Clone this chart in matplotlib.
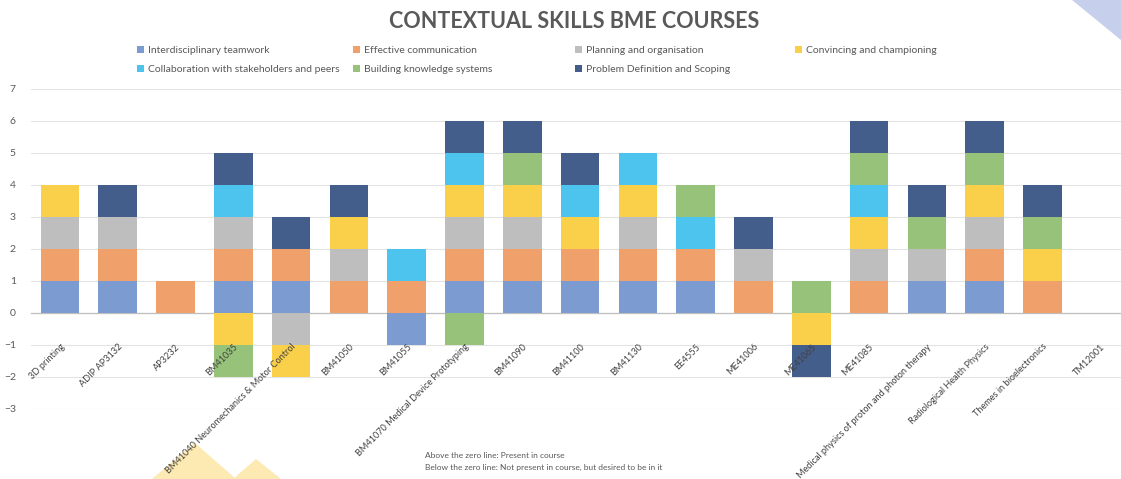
import matplotlib
matplotlib.use("Agg")
import matplotlib.pyplot as plt
from matplotlib.patches import Polygon, Patch
import numpy as np

plt.rcParams['font.family'] = ['Lato', 'DejaVu Sans']

categories = ["3D printing", "ADIP AP3132", "AP3232", "BM41035",
              "BM41040 Neuromechanics & Motor Control", "BM41050", "BM41055",
              "BM41070 Medical Device Prototyping", "BM41090", "BM41100", "BM41130",
              "EE4555", "ME41006", "ME41065", "ME41085",
              "Medical physics of proton and photon therapy",
              "Radiological Health Physics", "Themes in bioelectronics", "TM12001"]

series_names = ["Interdisciplinary teamwork", "Effective communication",
                "Planning and organisation", "Convincing and championing",
                "Collaboration with stakeholders and peers", "Building knowledge systems",
                "Problem Definition and Scoping"]

interdisciplinary = [1, 1, 0, 1, 1, 0, -1, 1, 1, 1, 1, 1, 0, 0, 0, 1, 1, 0, 0]
communication     = [1, 1, 1, 1, 1, 1, 1, 1, 1, 1, 1, 1, 1, 0, 1, 0, 1, 1, 0]
planning          = [1, 1, 0, 1, -1, 1, 0, 1, 1, 0, 1, 0, 1, 0, 1, 1, 1, 0, 0]
convincing        = [1, 0, 0, -1, -1, 1, 0, 1, 1, 1, 1, 0, 0, -1, 1, 0, 1, 1, 0]
collaboration     = [0, 0, 0, 1, 0, 0, 1, 1, 0, 1, 1, 1, 0, 0, 1, 0, 0, 0, 0]
knowledge         = [0, 0, 0, -1, 0, 0, 0, -1, 1, 0, 0, 1, 0, 1, 1, 1, 1, 1, 0]
problem_def       = [0, 1, 0, 1, 1, 1, 0, 1, 1, 1, 0, 0, 1, -1, 1, 1, 1, 1, 0]

colors = ["#7B9BD1", "#F0A16B", "#BEBEBE", "#FAD04B", "#4DC4EE", "#97C279", "#445E8B"]

series = [interdisciplinary, communication, planning, convincing,
          collaboration, knowledge, problem_def]

fig = plt.figure(figsize=(11.21, 4.79), dpi=100)
ax = fig.add_axes([31/1121, 70/479, 19*57.8/1121, 320/479])

# decorations
fig.patches.append(Polygon([[1072/1121, 1.0], [1.0, 1.0], [1.0, 1 - 40/479]],
                           closed=True, transform=fig.transFigure,
                           facecolor="#C6CFEC", edgecolor="none", zorder=0))
fig.patches.append(Polygon([[152/1121, 0.0], [195/1121, 1 - 443/479], [236/1121, 0.0]],
                           closed=True, transform=fig.transFigure,
                           facecolor="#FDE9B2", edgecolor="none", zorder=0))
fig.patches.append(Polygon([[233/1121, 0.0], [256/1121, 1 - 459/479], [281/1121, 0.0]],
                           closed=True, transform=fig.transFigure,
                           facecolor="#FDE9B2", edgecolor="none", zorder=0))
ax.set_zorder(1)
ax.patch.set_alpha(0)

x = np.arange(len(categories))
pos_bottom = np.zeros(len(categories))
neg_bottom = np.zeros(len(categories))
width = 0.67
for vals, name, col in zip(series, series_names, colors):
    v = np.array(vals, dtype=float)
    pos = np.where(v > 0, v, 0)
    neg = np.where(v < 0, v, 0)
    ax.bar(x, pos, width, bottom=pos_bottom, color=col, label=name, zorder=2)
    ax.bar(x, neg, width, bottom=neg_bottom, color=col, zorder=2)
    pos_bottom += pos
    neg_bottom += neg

ax.set_xlim(-0.5, len(categories) - 0.5)
ax.set_ylim(-3, 7)
ax.set_yticks(range(-3, 8))
ax.yaxis.grid(True, color="#E3E3E3", linewidth=0.8)
ax.yaxis.set_zorder(0.5)
ax.xaxis.set_zorder(5)
for s in ["top", "right", "left"]:
    ax.spines[s].set_visible(False)
ax.spines["bottom"].set_position(("data", 0))
ax.spines["bottom"].set_color("#BFBFBF")
ax.spines["bottom"].set_linewidth(0.9)
ax.spines["bottom"].set_zorder(1.5)
ax.tick_params(axis="y", length=0, pad=11, labelsize=7.5, labelcolor="#595959")
ax.set_xticks(x)
ax.set_xticklabels(categories, rotation=45, ha="right", rotation_mode="anchor",
                   fontsize=6.6, color="#404040")
ax.tick_params(axis="x", length=0, pad=21)

fig.text(574/1121, 1 - 22/479, "CONTEXTUAL SKILLS BME COURSES", ha="center", va="center",
         fontsize=15.5, fontweight="bold", color="#595959")

# legend: four columns placed like the Excel legend
handles = [Patch(facecolor=c) for c in colors]
col_groups = [[0, 4], [1, 5], [2, 6], [3]]
col_x = [137, 353, 575, 795]
for grp, cx in zip(col_groups, col_x):
    fig.legend([handles[i] for i in grp], [series_names[i] for i in grp],
               loc="upper left", bbox_to_anchor=(cx/1121, 1 - 46/479),
               frameon=False, fontsize=7.5, handlelength=0.7, handleheight=0.7,
               handletextpad=0.4, labelspacing=0.95, borderpad=0, borderaxespad=0,
               labelcolor="#595959")

fig.text(425/1121, 1 - 455/479, "Above the zero line: Present in course",
         ha="left", va="center", fontsize=6, color="#595959")
fig.text(425/1121, 1 - 467/479,
         "Below the zero line: Not present in course, but desired to be in it",
         ha="left", va="center", fontsize=6, color="#595959")

fig.savefig("out.png", dpi=100)
